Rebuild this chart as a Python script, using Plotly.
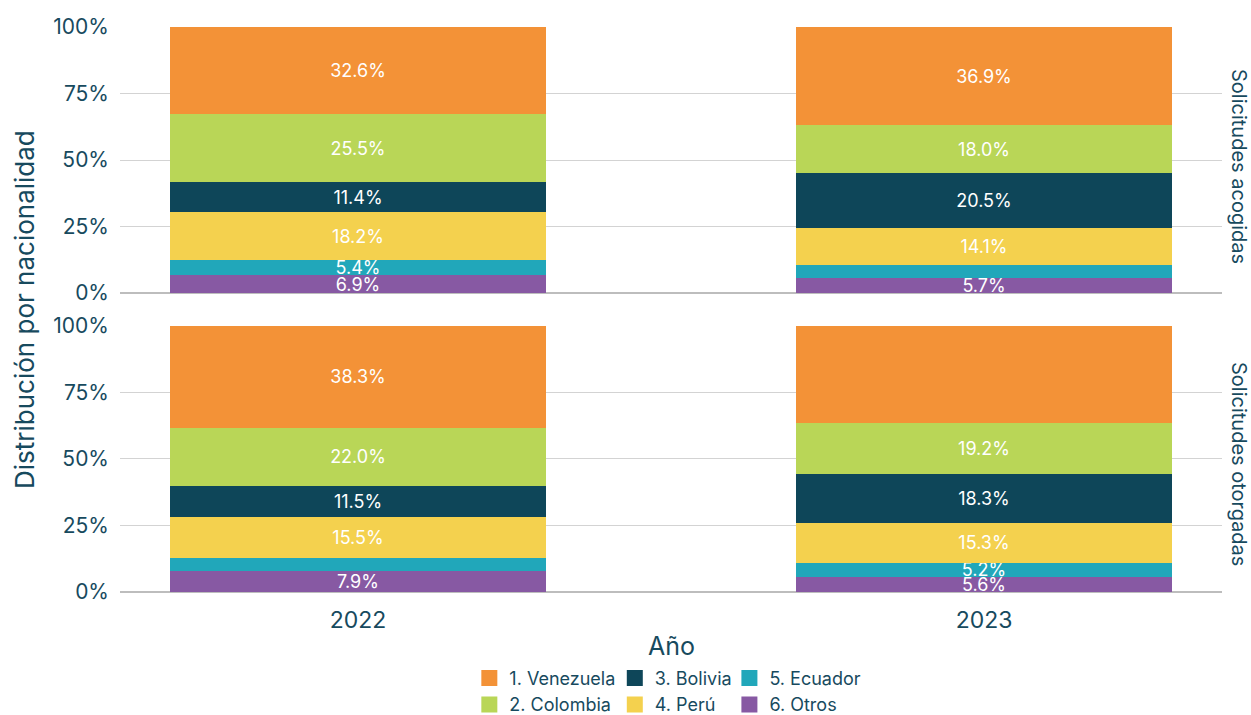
import plotly.graph_objects as go

years = ["2022", "2023"]
nationalities = ["1. Venezuela", "2. Colombia", "3. Bolivia", "4. Perú", "5. Ecuador", "6. Otros"]
colors = ["#F39237", "#B9D657", "#0E4659", "#F4D14E", "#21A7BA", "#8759A3"]

# Percent share per nationality for [2022, 2023]
acogidas = {
    "1. Venezuela": [32.6, 36.9],
    "2. Colombia": [25.5, 18.0],
    "3. Bolivia": [11.4, 20.5],
    "4. Perú": [18.2, 14.1],
    "5. Ecuador": [5.4, 4.8],
    "6. Otros": [6.9, 5.7],
}
otorgadas = {
    "1. Venezuela": [38.3, 36.5],
    "2. Colombia": [22.0, 19.2],
    "3. Bolivia": [11.5, 18.3],
    "4. Perú": [15.5, 15.3],
    "5. Ecuador": [4.8, 5.2],
    "6. Otros": [7.9, 5.6],
}
facet_labels = ["Solicitudes acogidas", "Solicitudes otorgadas"]
y_ticks = [0, 25, 50, 75, 100]
y_ticktext = ["0%", "25%", "50%", "75%", "100%"]

TXT = "#174A5E"
FONT = "Inter"
legend_of = {
    "1. Venezuela": "legend", "2. Colombia": "legend",
    "3. Bolivia": "legend2", "4. Perú": "legend2",
    "5. Ecuador": "legend3", "6. Otros": "legend3",
}

fig = go.Figure()
stack_order = ["6. Otros", "5. Ecuador", "4. Perú", "3. Bolivia", "2. Colombia", "1. Venezuela"]
for panel, (data, yref) in enumerate([(acogidas, "y"), (otorgadas, "y2")]):
    for nat in stack_order:
        vals = data[nat]
        col = colors[nationalities.index(nat)]
        labels = [f"{v:.1f}%" if v >= 5 else "" for v in vals]
        fig.add_trace(go.Bar(
            x=years, y=vals, name=nat, marker=dict(color=col, line=dict(width=0)),
            text=labels, textposition="inside", insidetextanchor="middle",
            textangle=0, constraintext="none", cliponaxis=False,
            textfont=dict(color="white", size=18, family=FONT),
            width=0.6, xaxis="x" if panel == 0 else "x2", yaxis=yref,
            showlegend=False,
        ))

# legend-only entries (square swatches)
for i, nat in enumerate(nationalities):
    fig.add_trace(go.Scatter(
        x=[None], y=[None], mode="markers", name=nat,
        marker=dict(symbol="square", size=20, color=colors[i]),
        legend=legend_of[nat], showlegend=True, legendrank=i + 1,
        xaxis="x2", yaxis="y2",
    ))

yax = dict(range=[0, 100], tickmode="array", tickvals=y_ticks, ticktext=y_ticktext,
           showgrid=True, gridcolor="#D3D3D3", gridwidth=1,
           zeroline=True, zerolinecolor="#BDBDBD", zerolinewidth=2,
           tickfont=dict(size=21, color=TXT, family=FONT), ticks="", showline=False,
           ticklabelstandoff=10)
xax = dict(type="category", range=[-0.38, 1.38], showgrid=False, zeroline=False,
           showline=False, ticks="", tickfont=dict(size=23, color=TXT, family=FONT),
           ticklabelstandoff=12, categoryorder="array", categoryarray=years)

leg = dict(orientation="v", xanchor="left", yanchor="top", y=-0.12,
           font=dict(size=18, color=TXT, family=FONT), bgcolor="rgba(0,0,0,0)",
           tracegroupgap=0, itemwidth=30, traceorder="normal", itemsizing="trace")

fig.update_layout(
    width=1251, height=715, barmode="stack", bargap=0,
    paper_bgcolor="white", plot_bgcolor="white",
    margin=dict(l=120, r=29, t=27, b=123, autoexpand=False),
    font=dict(family=FONT, color=TXT),
    yaxis=dict(domain=[0.5292, 1], **yax),
    yaxis2=dict(domain=[0, 0.4708], **yax),
    xaxis=dict(anchor="y", showticklabels=False, **xax),
    xaxis2=dict(anchor="y2", **xax),
    legend=dict(x=0.317, **leg),
    legend2=dict(x=0.449, **leg),
    legend3=dict(x=0.553, **leg),
    annotations=[
        dict(text=facet_labels[0], x=1.0, xref="paper", xanchor="left", xshift=3,
             y=0.7646, yref="paper", yanchor="middle", yshift=-6, textangle=90,
             showarrow=False, font=dict(size=20, color=TXT, family=FONT)),
        dict(text=facet_labels[1], x=1.0, xref="paper", xanchor="left", xshift=3,
             y=0.2354, yref="paper", yanchor="middle", yshift=-5, textangle=90,
             showarrow=False, font=dict(size=20, color=TXT, family=FONT)),
        dict(text="Distribución por nacionalidad", x=0, xref="paper", xanchor="right",
             xshift=-78, y=0.5, yref="paper", yanchor="middle", textangle=-90,
             showarrow=False, font=dict(size=26, color=TXT, family=FONT)),
        dict(text="Año", x=0.5, xref="paper", y=0, yref="paper", yanchor="top",
             yshift=-37, showarrow=False, font=dict(size=25, color=TXT, family=FONT)),
    ],
)

fig.write_html("out.html", config={"displayModeBar": False},
               post_script="document.body.style.margin='0';")
